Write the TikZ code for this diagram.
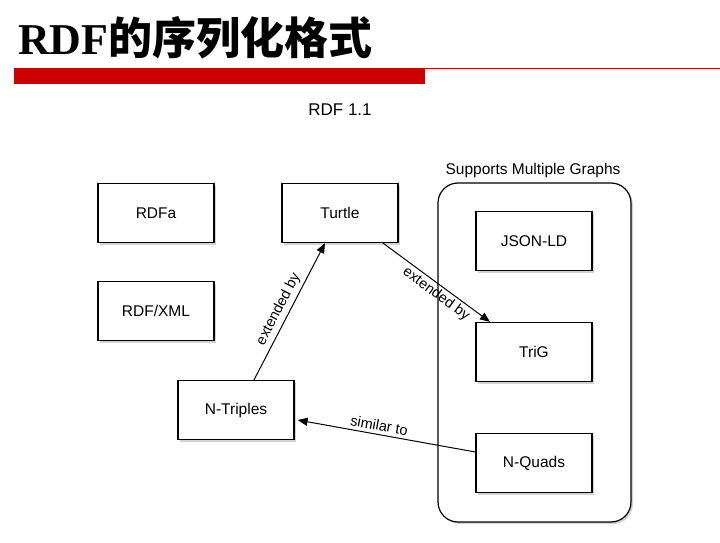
\documentclass[tikz,border=0pt]{standalone}
\usepackage{fontspec}
\setmainfont{Liberation Sans}
\newfontfamily\titlefont{Liberation Serif}
\newfontfamily\cjk{Noto Sans CJK SC}
\usetikzlibrary{shadows,arrows.meta}
\begin{document}
\begin{tikzpicture}[x=1pt,y=-1pt,
  box/.style={draw,line width=1.2pt,minimum width=116pt,minimum height=59pt,fill=white,font=\fontsize{15.5}{18}\selectfont,drop shadow={shadow xshift=2pt,shadow yshift=-2pt,opacity=0.35}},
  arr/.style={line width=1pt,-{Triangle[length=10pt,width=8pt]}},
  lab/.style={font=\fontsize{14.5}{16}\selectfont,sloped}]
\useasboundingbox (0,0) rectangle (720,543);
\node[anchor=base west,inner sep=0] (title) at (18,55) {\titlefont\bfseries\fontsize{44}{50}\selectfont RDF{\cjk\bfseries 的序列化格式}};
\fill[red!80!black] (14,68) rectangle (425,84);
\draw[red!80!black,line width=0.6pt] (425,68) -- (720,68);
\node (ver) at (340,110) {\fontsize{17}{20}\selectfont RDF 1.1};
\node[draw,line width=1.2pt,rounded corners=20pt,minimum width=193pt,minimum height=339pt,drop shadow={shadow xshift=2pt,shadow yshift=-2pt,opacity=0.35},fill=white] (grp) at (534.5,352.5) {};
\node (grplab) at (533,170) {\fontsize{15.5}{18}\selectfont Supports Multiple Graphs};
\node[box] (rdfa) at (156,213) {RDFa};
\node[box] (xml) at (156,311) {RDF/XML};
\node[box] (tu) at (340,213) {Turtle};
\node[box] (nt) at (236,410) {N-Triples};
\node[box] (js) at (534,241) {JSON-LD};
\node[box] (tg) at (534,352) {TriG};
\node[box] (nq) at (534,463) {N-Quads};
\draw[arr] ([xshift=18pt]nt.north) -- node[lab,above,pos=0.48] {extended by} ([xshift=-15pt]tu.south);
\draw[arr] ([xshift=43pt]tu.south) -- node[lab,below,pos=0.55,yshift=1pt] {extended by} ([xshift=-44pt]tg.north);
\draw[arr] ([yshift=11pt]nq.west) -- node[lab,above,pos=0.55] {similar to} ([xshift=3pt,yshift=-10pt]nt.east);
\end{tikzpicture}
\end{document}
